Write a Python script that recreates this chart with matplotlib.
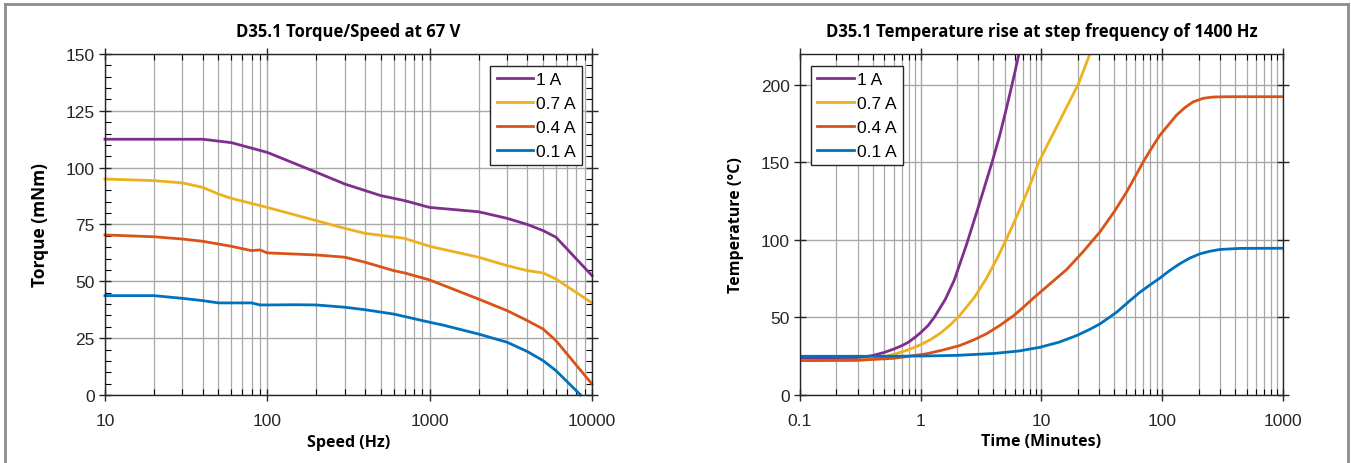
import numpy as np
import matplotlib
matplotlib.use("Agg")
import matplotlib.pyplot as plt
from matplotlib.lines import Line2D
from matplotlib.ticker import LogLocator, MultipleLocator, FixedLocator, NullFormatter

# torque / speed curves
speed_1a = [10, 20, 40, 60, 100, 200, 300, 500, 700, 1000, 2000, 3000, 4000, 5000, 6000, 10000]
torque_1a = [112.5, 112.5, 112.5, 111, 106.7, 98, 92.8, 87.7, 85.5, 82.5, 80.6, 77.7, 75, 72.3, 69.4, 52.5]

speed_07a = [10, 20, 30, 40, 50, 60, 100, 200, 300, 400, 700, 1000, 2000, 3000, 4000, 5000, 6000, 10000]
torque_07a = [95, 94.3, 93.3, 91.3, 88.4, 86.5, 82.5, 76.7, 73.3, 71.1, 68.9, 65.4, 60.6, 56.9, 54.7, 53.7, 51, 40.5]

speed_04a = [10, 20, 30, 40, 50, 60, 80, 90, 100, 200, 300, 400, 600, 700, 1000, 2000, 3000, 4000, 5000, 6000, 10000]
torque_04a = [70.4, 69.6, 68.6, 67.6, 66.4, 65.4, 63.5, 63.8, 62.5, 61.6, 60.6, 58.4, 54.7, 53.7, 50.6, 42.2, 37.1, 32.7, 29.0, 23.9, 4.8]

speed_01a = [10, 20, 30, 40, 50, 80, 90, 100, 150, 200, 300, 400, 600, 1000, 1200, 2000, 3000, 4000, 5000, 6000, 8500]
torque_01a = [43.7, 43.7, 42.5, 41.5, 40.5, 40.5, 39.6, 39.6, 39.7, 39.6, 38.6, 37.5, 35.6, 32, 30.8, 26.8, 23.2, 19.1, 15.1, 10.7, 0]

# temperature rise curves
time_1a = [0.1, 0.3, 0.4, 0.5, 0.6, 0.7, 0.8, 0.9, 1.0, 1.15, 1.3, 1.6, 1.9, 2.4, 3.0, 3.5, 3.9, 4.5, 5.1, 5.7, 6.1, 6.5]
temp_1a = [23.4, 23.6, 25.2, 27.2, 29.4, 31.6, 34, 37, 40, 44.5, 50, 61.5, 74, 97, 121, 138, 150, 167, 184, 200, 210, 220]

time_07a = [0.1, 0.3, 0.4, 0.5, 0.6, 0.8, 1.0, 1.2, 1.45, 1.75, 2.1, 2.8, 3.5, 4.3, 5.1, 6.0, 7.0, 8.2, 9.5, 11.5, 13.8, 16.5, 20.2, 25.2]
temp_07a = [21.9, 22.2, 23.0, 24.4, 26.0, 29.0, 32.2, 35.4, 39.5, 44.8, 51, 63, 75, 88, 100, 112, 124, 137, 150, 163, 175, 187, 200.5, 220]

time_04a = [0.1, 0.3, 0.6, 1.1, 1.5, 2.1, 2.7, 3.5, 4.5, 5.9, 7.0, 8.5, 11, 16.2, 22, 30.5, 40, 50.8, 60, 69.7, 80, 95.7, 115, 131.5, 155, 180.8, 220, 265, 350, 1000]
temp_04a = [21.9, 22.1, 23.4, 26.2, 28.6, 31.6, 35, 39.2, 44.5, 51, 56, 62, 69.5, 80.8, 92, 105, 118, 130.9, 141, 150.3, 158, 167.5, 175, 180.5, 185.5, 189.1, 191.4, 192.2, 192.4, 192.4]

time_01a = [0.1, 0.5, 1.1, 2.0, 4.0, 6.5, 9.7, 14, 19.6, 25, 30.5, 36, 42, 52, 65.4, 80, 95.7, 115, 140, 170, 205.6, 250, 300.8, 440, 1000]
temp_01a = [24.7, 24.7, 24.9, 25.3, 26.5, 28.1, 30.5, 33.8, 38.1, 42, 45.6, 49.5, 53.2, 59.5, 66.1, 71, 75.2, 80, 84.5, 88.2, 90.9, 92.6, 93.7, 94.4, 94.5]

labels = ["1 A", "0.7 A", "0.4 A", "0.1 A"]
colors = ["#7E2F8E", "#EDB120", "#D95319", "#0072BD"]

tick_font = "Liberation Sans"
label_font = "Open Sans"

fig = plt.figure(figsize=(13.51, 4.64), dpi=100)
ax1 = fig.add_axes([0.0777, 0.1466, 0.3605, 0.7349])
ax2 = fig.add_axes([0.5921, 0.1476, 0.3575, 0.7339])


def style_axes(ax, xlim, ylim, yticks, yminor, xticks, xticklabels):
    ax.set_xscale("log")
    ax.set_xlim(*xlim)
    ax.set_ylim(*ylim)
    ax.xaxis.set_major_locator(FixedLocator(xticks))
    ax.xaxis.set_minor_locator(LogLocator(base=10, subs=np.arange(2, 10)))
    ax.xaxis.set_minor_formatter(NullFormatter())
    ax.set_xticklabels(xticklabels)
    ax.set_yticks(yticks)
    if yminor:
        ax.yaxis.set_minor_locator(MultipleLocator(yminor))
    ax.tick_params(which="major", direction="inout", length=8, width=1,
                   top=True, right=True, labelsize=12.5, colors="#262626")
    ax.tick_params(axis="x", which="major", pad=9)
    ax.tick_params(which="minor", direction="in", length=4, width=0.8,
                   top=True, right=True)
    for lab in ax.get_xticklabels() + ax.get_yticklabels():
        lab.set_family(tick_font)
    ax.grid(True, which="major", axis="both", color="#a8a8a8", lw=1.0)
    ax.grid(True, which="minor", axis="x", color="#a8a8a8", lw=0.9)
    for s in ax.spines.values():
        s.set_linewidth(1.0)
        s.set_color("#262626")
    ax.set_axisbelow(True)


style_axes(ax1, (10, 10000), (0, 150), [0, 25, 50, 75, 100, 125, 150], 5,
           [10, 100, 1000, 10000], ["10", "100", "1000", "10000"])
style_axes(ax2, (0.1, 1000), (0, 220), [0, 50, 100, 150, 200], None,
           [0.1, 1, 10, 100, 1000], ["0.1", "1", "10", "100", "1000"])

lw = 2.0
for x, y, lab, c in zip([speed_1a, speed_07a, speed_04a, speed_01a],
                        [torque_1a, torque_07a, torque_04a, torque_01a],
                        labels, colors):
    ax1.plot(x, y, color=c, lw=lw, label=lab, clip_on=False)

for x, y, lab, c in zip([time_1a, time_07a, time_04a, time_01a],
                        [temp_1a, temp_07a, temp_04a, temp_01a],
                        labels, colors):
    ax2.plot(x, y, color=c, lw=lw, label=lab, solid_joinstyle="round")

title_kw = dict(fontfamily=label_font, fontweight="bold", fontsize=12, pad=13)
ax1.set_title("D35.1 Torque/Speed at 67 V", **title_kw)
ax2.set_title("D35.1 Temperature rise at step frequency of 1400 Hz", **title_kw)

lab_kw = dict(fontfamily=label_font, fontweight="bold", fontsize=11.5)
ax1.set_xlabel("Speed (Hz)", labelpad=4, **lab_kw)
ax2.set_xlabel("Time (Minutes)", labelpad=4, **lab_kw)
ax1.set_ylabel("Torque (mNm)", labelpad=12, fontfamily=label_font,
               fontweight="bold", fontsize=12.5)
ax2.set_ylabel("Temperature (°C)", labelpad=12, **lab_kw)

leg_kw = dict(fancybox=False, edgecolor="#262626", framealpha=1, borderaxespad=0,
              handlelength=2.1, handletextpad=0.2, borderpad=0.35,
              prop={"family": tick_font, "size": 12.5})
leg1 = ax1.legend(loc="upper right", bbox_to_anchor=(0.98, 0.965), **leg_kw)
leg2 = ax2.legend(loc="upper left", bbox_to_anchor=(0.023, 0.965), **leg_kw)
for leg in (leg1, leg2):
    leg.get_frame().set_linewidth(1.0)

# grey frame around the figure
W, H = 1351, 464
frame_kw = dict(color="#8c8c8c", lw=2, transform=fig.transFigure)
fig.add_artist(Line2D([5 / W, 1348 / W], [1 - 5 / H, 1 - 5 / H], **frame_kw))
fig.add_artist(Line2D([5 / W, 5 / W], [0, 1 - 5 / H], **frame_kw))
fig.add_artist(Line2D([1348 / W, 1348 / W], [0, 1 - 5 / H], **frame_kw))

fig.savefig("out.png", dpi=100)
